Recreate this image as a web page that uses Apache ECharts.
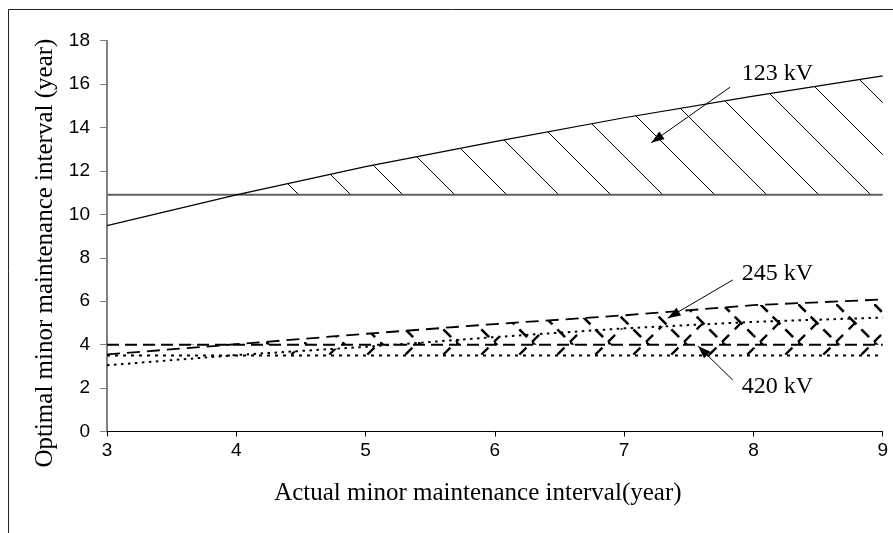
<!DOCTYPE html>
<html>
<head>
<meta charset="utf-8">
<script src="https://cdn.jsdelivr.net/npm/echarts@6/dist/echarts.min.js"></script>
<style>
  html, body { margin: 0; padding: 0; background: #fff; }
  #chart { width: 893px; height: 533px; }
</style>
</head>
<body>
<div id="chart"></div>
<script>
// Actual minor maintenance interval (years)
const years = [3, 4, 5, 6, 7, 8, 9];
const xTicks = [3, 4, 5, 6, 7, 8, 9];
const yTicks = [0, 2, 4, 6, 8, 10, 12, 14, 16, 18];

// Optimal interval curves and the fixed reference levels per voltage class
const kv123 = [9.48, 10.9, 12.2, 13.35, 14.45, 15.45, 16.38];
const kv123Level = 10.9;
const kv245 = [3.55, 4.02, 4.5, 4.95, 5.35, 5.82, 6.08];
const kv245Level = 4.0;
const kv420 = [3.05, 3.52, 3.9, 4.35, 4.75, 5.05, 5.25];
const kv420Level = 3.5;

// Callouts: label centre, arrow tail, arrow tip (axis units)
const callouts = [
  { text: '123 kV', label: [7.91, 16.47], tail: [7.82, 15.86], tip: [7.21, 13.3] },
  { text: '245 kV', label: [7.91, 7.28], tail: [7.84, 6.98], tip: [7.336, 5.22] },
  { text: '420 kV', label: [7.91, 2.06], tail: [7.84, 2.37], tip: [7.571, 3.94] }
];

const pairs = (ys) => years.map((x, i) => [x, ys[i]]);
const flat = (v) => years.map((x) => [x, v]);
// consecutive curve segments: [x0, y0, x1, y1]
const segments = (ys) => years.slice(1).map((x, i) => [years[i], ys[i], x, ys[i + 1]]);

// Diagonal hatch tile; dir '\\' or '/'
function hatch(size, dir, width, dash) {
  const c = document.createElement('canvas');
  c.width = size; c.height = size;
  const g = c.getContext('2d');
  g.strokeStyle = '#000';
  g.lineWidth = width;
  if (dash) g.setLineDash(dash);
  const segs = dir === '\\'
    ? [[0, 0, size, size], [-size, 0, 0, size], [0, -size, size, 0]]
    : [[0, size, size, 0], [-size, size, 0, 0], [0, 2 * size, 2 * size, 0]];
  segs.forEach(([a, b, c2, d]) => { g.beginPath(); g.moveTo(a, b); g.lineTo(c2, d); g.stroke(); });
  return { image: c, repeat: 'repeat' };
}

const diag = (s) => s * Math.SQRT2;
const fill123 = hatch(52, '\\', 1, null);
const fill245 = hatch(38, '\\', 2.6, [11, diag(38) / 3 - 11]);
const fill420 = hatch(38, '/', 2.3, [10, diag(38) / 3 - 10]);

// Hatched band between a level and the part of the curve above it
function band(name, ys, level, fill) {
  return {
    name: name + ' band', type: 'custom', silent: true, z: 1,
    data: segments(ys),
    encode: { x: [0, 2], y: [1, 3] },
    renderItem: (params, api) => {
      const x0 = api.value(0), y0 = api.value(1), x1 = api.value(2), y1 = api.value(3);
      const pts = [
        api.coord([x0, Math.max(y0, level)]),
        api.coord([x1, Math.max(y1, level)]),
        api.coord([x1, level]),
        api.coord([x0, level])
      ];
      return { type: 'polygon', shape: { points: pts }, style: { fill: fill, stroke: null } };
    }
  };
}

const chart = echarts.init(document.getElementById('chart'), null, { renderer: 'canvas' });

const option = {
  animation: false,
  backgroundColor: '#fff',
  grid: { left: 107, right: 10.3, top: 40.7, bottom: 101.5, containLabel: false },
  xAxis: {
    type: 'value',
    min: xTicks[0], max: xTicks[xTicks.length - 1], interval: 1,
    name: 'Actual minor maintenance interval(year)',
    nameLocation: 'middle', nameGap: 49,
    nameTextStyle: { fontFamily: 'Liberation Serif', fontSize: 25, color: '#000', padding: [0, 34, 0, 0] },
    axisLine: { lineStyle: { color: '#000', width: 1 } },
    axisTick: { show: true, length: 5, lineStyle: { color: '#000' } },
    axisLabel: { margin: 10, fontFamily: 'Liberation Sans', fontSize: 19, color: '#000' },
    splitLine: { show: false }
  },
  yAxis: {
    type: 'value',
    min: yTicks[0], max: yTicks[yTicks.length - 1], interval: 2,
    name: 'Optimal minor maintenance interval (year)',
    nameLocation: 'middle', nameGap: 48, nameRotate: 90,
    nameTextStyle: { fontFamily: 'Liberation Serif', fontSize: 25, color: '#000', padding: [0, 34, 0, 0] },
    axisLine: { show: true, lineStyle: { color: '#808080', width: 2 } },
    axisTick: { show: true, length: 7, lineStyle: { color: '#808080', width: 1 } },
    axisLabel: { margin: 17, fontFamily: 'Liberation Sans', fontSize: 19, color: '#000' },
    splitLine: { show: false }
  },
  series: [
    band('123 kV', kv123, kv123Level, fill123),
    band('245 kV', kv245, kv245Level, fill245),
    band('420 kV', kv420, kv420Level, fill420),
    { name: '123 kV level', type: 'line', data: flat(kv123Level), symbol: 'none',
      lineStyle: { color: '#606060', width: 2 }, z: 3 },
    { name: '123 kV', type: 'line', data: pairs(kv123), symbol: 'none',
      lineStyle: { color: '#000', width: 1.2 }, z: 4 },
    { name: '245 kV level', type: 'line', data: flat(kv245Level), symbol: 'none',
      lineStyle: { color: '#000', width: 2, type: [12, 6] }, z: 3 },
    { name: '245 kV', type: 'line', data: pairs(kv245), symbol: 'none',
      lineStyle: { color: '#000', width: 1.8, type: [13, 7] }, z: 4 },
    { name: '420 kV level', type: 'line', data: flat(kv420Level), symbol: 'none',
      lineStyle: { color: '#000', width: 2.2, type: [3, 5] }, z: 3 },
    { name: '420 kV', type: 'line', data: pairs(kv420), symbol: 'none',
      lineStyle: { color: '#000', width: 2, type: [2.5, 4.5] }, z: 4 }
  ]
};

chart.setOption(option);

// Callout arrows and labels placed through the grid's coordinate system
function arrowHead(tip, tail, len, half) {
  const dx = tip[0] - tail[0], dy = tip[1] - tail[1];
  const d = Math.hypot(dx, dy);
  const ux = dx / d, uy = dy / d;
  const bx = tip[0] - ux * len, by = tip[1] - uy * len;
  return [tip, [bx - uy * half, by + ux * half], [bx + uy * half, by - ux * half]];
}

const graphics = [
  { type: 'rect', silent: true, z: 100,
    shape: { x: 8.5, y: 9.5, width: 1200, height: 1200 },
    style: { fill: 'none', stroke: '#222', lineWidth: 1 } }
];

callouts.forEach((c) => {
  const p = chart.convertToPixel({ gridIndex: 0 }, c.label);
  const t0 = chart.convertToPixel({ gridIndex: 0 }, c.tail);
  const t1 = chart.convertToPixel({ gridIndex: 0 }, c.tip);
  graphics.push({ type: 'line', silent: true, z: 50,
    shape: { x1: t0[0], y1: t0[1], x2: t1[0], y2: t1[1] },
    style: { stroke: '#000', lineWidth: 1 } });
  graphics.push({ type: 'polygon', silent: true, z: 50,
    shape: { points: arrowHead(t1, t0, 13, 4.5) },
    style: { fill: '#000' } });
  graphics.push({ type: 'text', silent: true, z: 50, x: p[0], y: p[1],
    style: { text: c.text, fill: '#000', font: '24px "Liberation Serif"',
      align: 'left', verticalAlign: 'middle' } });
});

chart.setOption({ graphic: graphics });
</script>
</body>
</html>
